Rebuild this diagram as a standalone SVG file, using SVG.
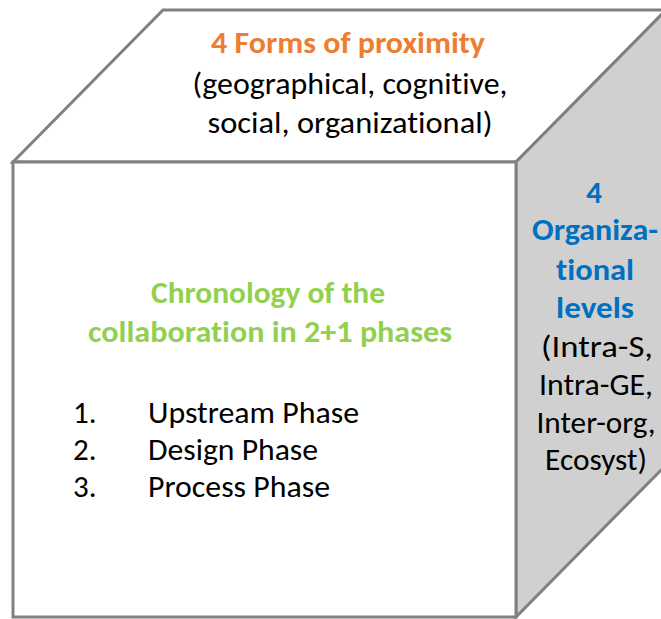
<svg xmlns="http://www.w3.org/2000/svg" width="661" height="619" viewBox="0 0 661 619">
<style>
.face{stroke:#808080;stroke-width:3;stroke-linejoin:miter}
.t{font-family:Carlito,Lato,"Open Sans",sans-serif;font-size:31px;font-variant-ligatures:none}
.b{font-weight:bold}
.c{text-anchor:middle}
</style>
<rect width="661" height="619" fill="#ffffff"/>
<g id="top-face">
<polygon class="face" points="13,162 163,10 666,10 516,162" fill="#ffffff"/>
<text class="t b c" x="348" y="53" fill="#ED7D31" textLength="274" lengthAdjust="spacingAndGlyphs">4 Forms of proximity</text>
<text class="t c" x="350" y="94" fill="#000000" textLength="315" lengthAdjust="spacingAndGlyphs">(geographical, cognitive,</text>
<text class="t c" x="350" y="133" fill="#000000" textLength="285" lengthAdjust="spacingAndGlyphs">social, organizational)</text>
</g>
<g id="right-face">
<polygon class="face" points="516,162 666,10 666,465 516,617" fill="#D0D0D0"/>
<text class="t b c" x="594" y="203" fill="#0070C0">4</text>
<text class="t b c" x="595" y="240" fill="#0070C0" textLength="126" lengthAdjust="spacingAndGlyphs">Organiza-</text>
<text class="t b c" x="595" y="280" fill="#0070C0" textLength="78" lengthAdjust="spacingAndGlyphs">tional</text>
<text class="t b c" x="595" y="318" fill="#0070C0" textLength="78" lengthAdjust="spacingAndGlyphs">levels</text>
<text class="t c" x="597" y="357" fill="#000000" textLength="112" lengthAdjust="spacingAndGlyphs">(Intra-S,</text>
<text class="t c" x="596" y="395" fill="#000000" textLength="114" lengthAdjust="spacingAndGlyphs">Intra-GE,</text>
<text class="t c" x="596" y="433" fill="#000000" textLength="119" lengthAdjust="spacingAndGlyphs">Inter-org,</text>
<text class="t c" x="596" y="470" fill="#000000" textLength="102" lengthAdjust="spacingAndGlyphs">Ecosyst)</text>
</g>
<g id="front-face">
<rect class="face" x="13" y="162" width="503" height="455" fill="#ffffff"/>
<text class="t b c" x="268" y="303" fill="#92D050" textLength="234" lengthAdjust="spacingAndGlyphs">Chronology of the</text>
<text class="t b c" x="270" y="342" fill="#92D050" textLength="364" lengthAdjust="spacingAndGlyphs">collaboration in 2+1 phases</text>
<text class="t" x="73" y="423" fill="#000000">1.</text>
<text class="t" x="148" y="423" fill="#000000" textLength="211" lengthAdjust="spacingAndGlyphs">Upstream Phase</text>
<text class="t" x="73" y="460" fill="#000000">2.</text>
<text class="t" x="148" y="460" fill="#000000" textLength="170" lengthAdjust="spacingAndGlyphs">Design Phase</text>
<text class="t" x="73" y="497" fill="#000000">3.</text>
<text class="t" x="148" y="497" fill="#000000" textLength="182" lengthAdjust="spacingAndGlyphs">Process Phase</text>
</g>
</svg>
